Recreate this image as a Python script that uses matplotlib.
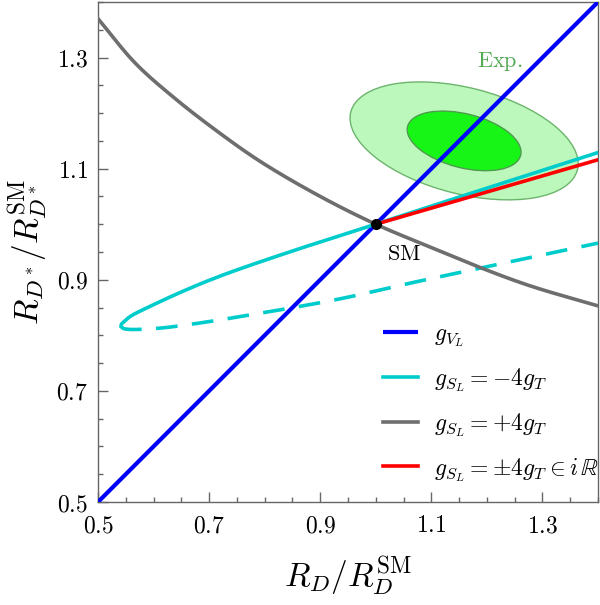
import matplotlib
matplotlib.use("Agg")
import numpy as np
import matplotlib.pyplot as plt
from matplotlib.patches import Ellipse
from matplotlib.ticker import FixedLocator, MultipleLocator, FuncFormatter

plt.rcParams['mathtext.fontset'] = 'cm'
plt.rcParams['font.family'] = ['DejaVu Serif']

# ------------------------------------------------------
# data
# ------------------------------------------------------
major_ticks = [0.5, 0.7, 0.9, 1.1, 1.3]

# g_VL : both ratios scale together
vl_x = [0.5, 1.4]
vl_y = [0.5, 1.4]

# g_SL = -4 g_T, solid branch (from right edge through SM down to the tip)
cyan_x = [1.4, 1.2, 1.0, 0.846, 0.726, 0.666, 0.606, 0.558, 0.548, 0.5425, 0.5415]
cyan_y = [1.129, 1.065, 1.0, 0.9505, 0.909, 0.885, 0.858, 0.834, 0.8255, 0.8205, 0.8165]
# g_SL = -4 g_T, dashed branch (from the tip back to the right edge)
cyan_dash_x = [0.5415, 0.5455, 0.553, 0.565, 0.612, 0.702, 0.792, 0.846, 0.942, 1.062, 1.188, 1.4]
cyan_dash_y = [0.8165, 0.8125, 0.811, 0.8105, 0.813, 0.825, 0.840, 0.849, 0.867, 0.894, 0.921, 0.966]

# g_SL = +4 g_T
gray_x = [0.5, 0.567, 0.639, 0.711, 0.792, 0.900, 1.0, 1.1, 1.188, 1.278, 1.4]
gray_y = [1.370, 1.290, 1.226, 1.170, 1.113, 1.050, 1.0, 0.958, 0.922, 0.889, 0.853]

# g_SL = +-4 g_T imaginary
red_x = [1.0, 1.4]
red_y = [1.0, 1.116]

# experimental ellipses (center, full width, full height, angle)
exp_center = (1.159, 1.150)
exp_outer = (0.421, 0.191, -14.3)
exp_inner = (0.210, 0.097, -14.3)

sm_point = (1.0, 1.0)

labels = [r'$g_{V_L}$', r'$g_{S_L}=-4g_T$', r'$g_{S_L}=+4g_T$',
          r'$g_{S_L}=\pm 4g_T\in i\,\mathbb{R}$']


# ------------------------------------------------------
def smooth(xs, ys, n=16):
    """Centripetal Catmull-Rom through the read points (drawing only)."""
    p = np.column_stack([xs, ys]).astype(float)
    p = np.vstack([2 * p[0] - p[1], p, 2 * p[-1] - p[-2]])
    out = []
    for i in range(1, len(p) - 2):
        p0, p1, p2, p3 = p[i - 1], p[i], p[i + 1], p[i + 2]
        t0 = 0.0
        t1 = t0 + np.linalg.norm(p1 - p0) ** 0.5
        t2 = t1 + np.linalg.norm(p2 - p1) ** 0.5
        t3 = t2 + np.linalg.norm(p3 - p2) ** 0.5
        t = np.linspace(t1, t2, n, endpoint=False)[:, None]
        a1 = (t1 - t) / (t1 - t0) * p0 + (t - t0) / (t1 - t0) * p1
        a2 = (t2 - t) / (t2 - t1) * p1 + (t - t1) / (t2 - t1) * p2
        a3 = (t3 - t) / (t3 - t2) * p2 + (t - t2) / (t3 - t2) * p3
        b1 = (t2 - t) / (t2 - t0) * a1 + (t - t0) / (t2 - t0) * a2
        b2 = (t3 - t) / (t3 - t1) * a2 + (t - t1) / (t3 - t1) * a3
        out.append((t2 - t) / (t2 - t1) * b1 + (t - t1) / (t2 - t1) * b2)
    out.append(p[-2][None, :])
    out = np.vstack(out)
    return out[:, 0], out[:, 1]


# ------------------------------------------------------
fig = plt.figure(figsize=(6, 6.05), dpi=100)
ax = fig.add_axes([98 / 600, 103 / 605, 500 / 600, 500 / 605])

ax.add_patch(Ellipse(exp_center, exp_outer[0], exp_outer[1], angle=exp_outer[2],
                     facecolor='#bcf8bc', edgecolor='#6cb46c', lw=1.0, zorder=1))
ax.add_patch(Ellipse(exp_center, exp_inner[0], exp_inner[1], angle=exp_inner[2],
                     facecolor='#17f517', edgecolor='#4c9c4c', lw=1.0, zorder=1))
ax.text(1.224, 1.293, r'$\mathrm{Exp.}$', color='#55aa55', fontsize=16,
        ha='center', va='center')

ax.plot(vl_x, vl_y, color='#0000ff', lw=3.0, label=labels[0], zorder=3,
        solid_capstyle='butt')

# cyan loop: smooth solid + dashed together so the tip stays round
n = 16
loop_x = cyan_x + cyan_dash_x[1:]
loop_y = cyan_y + cyan_dash_y[1:]
lx, ly = smooth(loop_x, loop_y, n)
k = (len(cyan_x) - 1) * n
ax.plot(lx[:k + 1], ly[:k + 1], color='#00cccc', lw=2.6, label=labels[1], zorder=4)
ax.plot(lx[k:], ly[k:], color='#00cccc', lw=2.6, zorder=4, dashes=(6, 4))

gx, gy = smooth(gray_x, gray_y, n)
ax.plot(gx, gy, color='#6e6e6e', lw=2.6, label=labels[2], zorder=5)
ax.plot(red_x, red_y, color='#ff0000', lw=2.6, label=labels[3], zorder=6)

ax.plot(*sm_point, 'o', color='black', ms=7, zorder=7)
ax.text(1.05, 0.947, r'$\mathrm{SM}$', fontsize=16, ha='center', va='center')

ax.set_xlim(0.5, 1.4)
ax.set_ylim(0.5, 1.4)
ax.xaxis.set_major_locator(FixedLocator(major_ticks))
ax.yaxis.set_major_locator(FixedLocator(major_ticks))
ax.xaxis.set_minor_locator(MultipleLocator(0.05))
ax.yaxis.set_minor_locator(MultipleLocator(0.05))
fmt = FuncFormatter(lambda v, p: r'$%.1f$' % v)
ax.xaxis.set_major_formatter(fmt)
ax.yaxis.set_major_formatter(fmt)
ax.tick_params(which='both', direction='in', colors='#666666', labelcolor='black',
               labelsize=17)
ax.tick_params(which='major', length=7, width=1.0)
ax.tick_params(which='minor', length=3.5, width=1.0)
ax.tick_params(axis='x', pad=9)
ax.tick_params(axis='y', pad=7)
for s in ax.spines.values():
    s.set_color('#666666')
    s.set_linewidth(1.0)

ax.set_xlabel(r'$R_D/R_D^{\mathrm{SM}}$', fontsize=24, labelpad=12)
ax.set_ylabel(r'$R_{D^*}/R_{D^*}^{\mathrm{SM}}$', fontsize=24, labelpad=5)

ax.legend(loc='lower left', bbox_to_anchor=(0.57, 0.037), frameon=False,
          fontsize=17, handlelength=1.5, handletextpad=0.65, labelspacing=0.72,
          borderpad=0, borderaxespad=0)

plt.savefig("out.png", dpi=100)
